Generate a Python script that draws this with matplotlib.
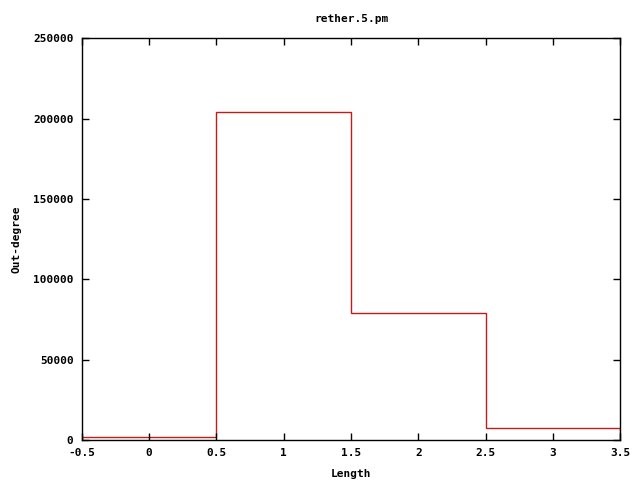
import matplotlib
matplotlib.use("Agg")
import matplotlib.pyplot as plt
import numpy as np

# histogram data
lengths = [0, 1, 2, 3]
outdegree = [1700, 204300, 78900, 7200]

plt.rcParams["font.family"] = "DejaVu Sans Mono"
plt.rcParams["font.weight"] = "bold"
plt.rcParams["font.size"] = 8
plt.rcParams["axes.unicode_minus"] = False

fig = plt.figure(figsize=(6.4, 4.8), dpi=100)
ax = fig.add_axes([0.128, 0.0833, 0.841, 0.8365])

centers = np.array(lengths, dtype=float)
edges = np.concatenate([centers - 0.5, [centers[-1] + 0.5]])
ax.stairs(outdegree, edges, color="#c41a1a", linewidth=1.0)

ax.set_xlim(-0.5, 3.5)
ax.set_ylim(0, 250000)
ax.set_xticks(np.arange(-0.5, 3.51, 0.5))
ax.set_xticklabels(["-0.5", "0", "0.5", "1", "1.5", "2", "2.5", "3", "3.5"])
ax.set_yticks(np.arange(0, 250001, 50000))
ax.tick_params(direction="in", length=5, width=1, top=True, right=True, pad=6)
for s in ax.spines.values():
    s.set_linewidth(1.0)

ax.set_title("rether.5.pm", fontsize=8, fontweight="bold", pad=12)
ax.set_xlabel("Length", fontweight="bold", labelpad=8)
ax.set_ylabel("Out-degree", fontweight="bold", labelpad=8)

fig.savefig("out.png", dpi=100)
